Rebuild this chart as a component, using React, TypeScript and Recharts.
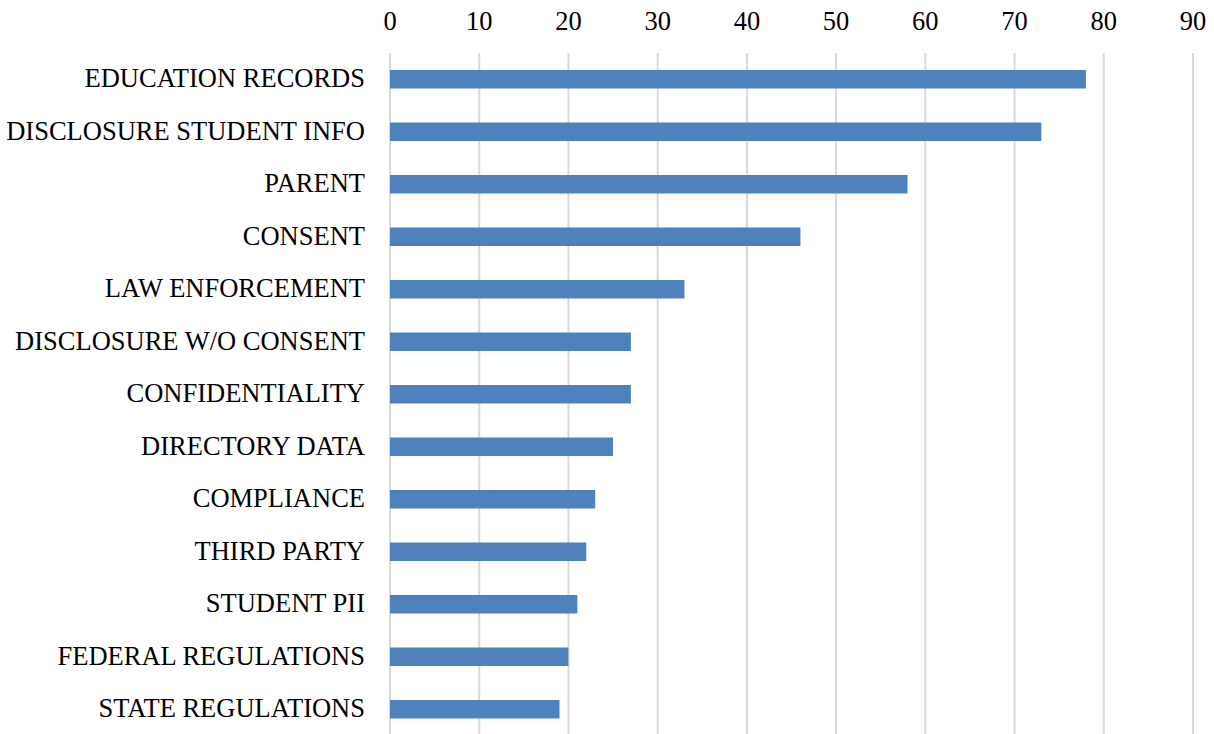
import React from "react";
import { BarChart, Bar, XAxis, YAxis, CartesianGrid } from "recharts";

const categories = [
  "EDUCATION RECORDS",
  "DISCLOSURE STUDENT INFO",
  "PARENT",
  "CONSENT",
  "LAW ENFORCEMENT",
  "DISCLOSURE W/O CONSENT",
  "CONFIDENTIALITY",
  "DIRECTORY DATA",
  "COMPLIANCE",
  "THIRD PARTY",
  "STUDENT PII",
  "FEDERAL REGULATIONS",
  "STATE REGULATIONS",
];
const counts = [78, 73, 58, 46, 33, 27, 27, 25, 23, 22, 21, 20, 19];
const xTicks = [0, 10, 20, 30, 40, 50, 60, 70, 80, 90];

const data = categories.map((name, i) => ({ name, value: counts[i] }));

const font = "'Liberation Serif', 'Times New Roman', serif";

export default function App() {
  return (
    <div style={{ position: "absolute", left: 0, top: 0, width: 1214, height: 734, overflow: "hidden", background: "#fff" }}>
      <BarChart
        width={1214}
        height={740}
        data={data}
        layout="vertical"
        margin={{ top: 0, right: 21, bottom: 4.5, left: 0 }}
        barCategoryGap={0}
      >
        <CartesianGrid horizontal={false} stroke="#d9d9d9" strokeWidth={2} />
        <XAxis
          type="number"
          orientation="top"
          domain={[0, 90]}
          ticks={xTicks}
          height={53}
          axisLine={false}
          tickLine={false}
          tickSize={0}
          tickMargin={23}
          interval={0}
          tick={{ fill: "#000", fontSize: 26.5, fontFamily: font }}
        />
        <YAxis
          type="category"
          dataKey="name"
          width={390}
          axisLine={false}
          tickLine={false}
          tickSize={0}
          tickMargin={25}
          interval={0}
          tick={{ fill: "#000", fontSize: 26.5, fontFamily: font, dy: -1.5 }}
        />
        <Bar dataKey="value" fill="#4f81bd" barSize={18.5} isAnimationActive={false} />
      </BarChart>
    </div>
  );
}
